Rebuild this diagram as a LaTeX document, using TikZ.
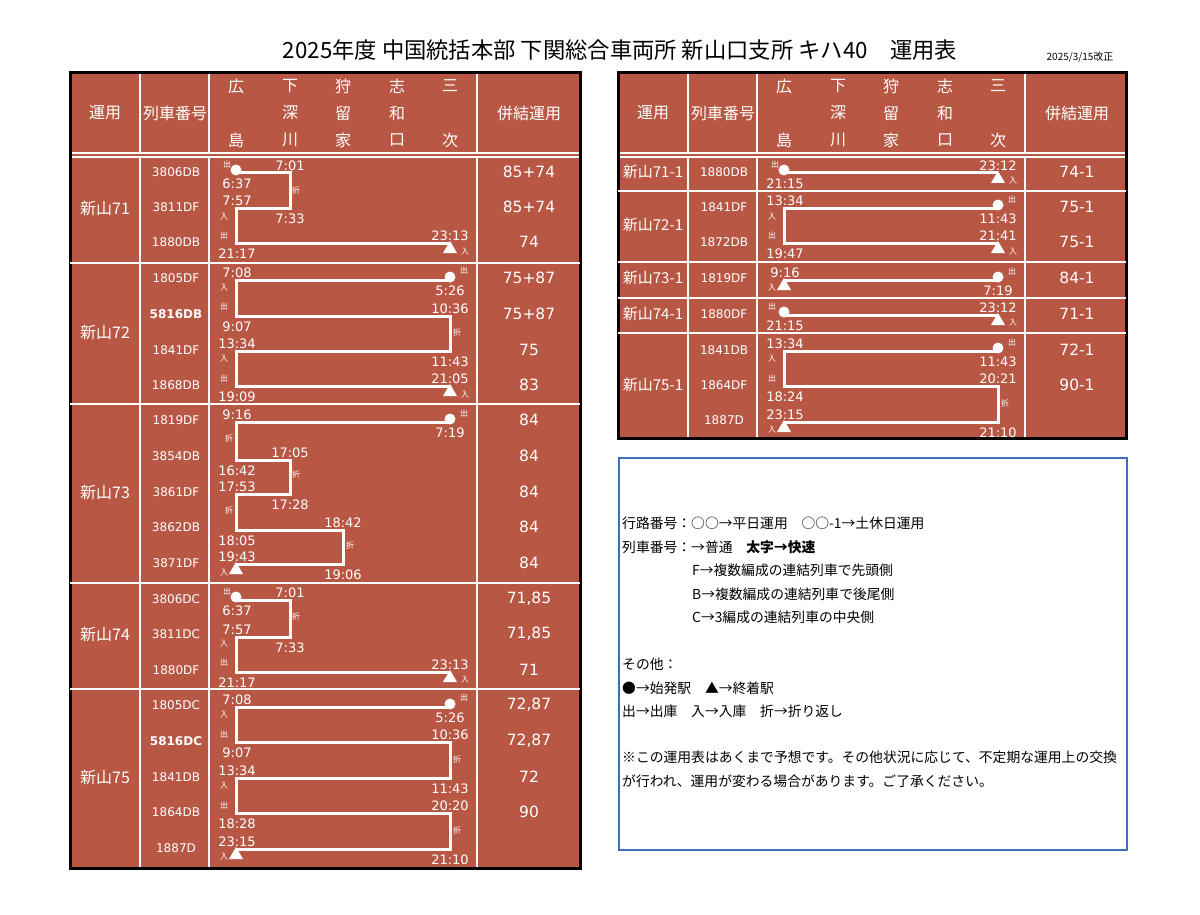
\documentclass[tikz,border=0pt]{standalone}
\usepackage{fontspec}
\setmainfont{Noto Sans CJK JP}
\newfontfamily\vf{DejaVu Sans}
\begin{document}
\definecolor{tbl}{RGB}{185,87,69}
\definecolor{lblue}{RGB}{58,112,190}
\newcommand\Tm[3]{\node[tm] at (#1,#2) {#3};}
\newcommand\Ta[3]{\node[tm] at (#1,#2-7) {#3};}
\newcommand\Tb[3]{\node[tm] at (#1,#2+11) {#3};}
\newcommand\Mk[3]{\node[mk] at (#1,#2) {#3};}
\newcommand\Dot[2]{\fill[white] (#1,#2-3) circle (5.5);}
\newcommand\Tri[2]{\fill[white] (#1-7,#2+10)--(#1+7,#2+10)--(#1,#2-2)--cycle;}
\begin{tikzpicture}[x=1pt,y=-1pt,
  tm/.style={text=white,font=\vf\fontsize{13}{13}\selectfont,inner sep=0pt},
  mk/.style={text=white,font=\fontsize{8}{8}\selectfont,inner sep=0pt},
  tn/.style={text=white,font=\vf\fontsize{12}{12}\selectfont,inner sep=0pt},
  tnb/.style={tn,font=\vf\fontsize{12}{12}\selectfont\bfseries},
  nm/.style={text=white,font=\fontsize{16}{16}\selectfont,inner sep=0pt},
  nmr/.style={text=white,font=\fontsize{15}{15}\selectfont,inner sep=0pt},
  hd/.style={text=white,font=\fontsize{16}{16}\selectfont,inner sep=0pt},
  pk/.style={text=white,font=\vf\fontsize{15.5}{15.5}\selectfont,inner sep=0pt},
  grid/.style={white,line width=1.5pt},
  route/.style={white,line width=3pt,line join=miter},
  lg/.style={anchor=west,font=\fontsize{13.8}{13.8}\selectfont,inner sep=0pt}]
\useasboundingbox (0,0) rectangle (1200,915);
\fill[white] (0,0) rectangle (1200,915);
\node[font=\fontsize{22.3}{22.3}\selectfont] (title) at (620,50) {2025年度 中国統括本部 下関総合車両所 新山口支所 キハ40　運用表};
\node[font=\fontsize{10}{10}\selectfont] (date) at (1080,57) {2025/3/15改正};
% ===== tables base =====
\foreach \ox/\bot/\rgt in {0/868/580, 548/438/1126}{
  \begin{scope}[xshift=\ox]
  \fill[tbl] (70,73) rectangle (\rgt-\ox,\bot);
  \draw[grid] (70,153)--(\rgt-\ox,153) (70,157)--(\rgt-\ox,157);
  \foreach \cx in {140,209,477}{\draw[grid] (\cx,73)--(\cx,153) (\cx,157)--(\cx,\bot);}
  \node[hd] at (105,113) {運用};
  \node[hd] at (175,113) {列車番号};
  \node[hd] at (529,113) {併結運用};
  \foreach \sx/\a/\b/\c in {236/広//島,290/下/深/川,343/狩/留/家,397/志/和/口,450/三//次}{
    \node[hd] at (\sx,86) {\a}; \node[hd] at (\sx,113) {\b}; \node[hd] at (\sx,140) {\c};}
  \end{scope}}
\draw[black,line width=3pt] (70,73) rectangle (580,868);
\draw[black,line width=3pt] (618,73) rectangle (1126,438);
\foreach \ry in {263,404,583,689}{\draw[grid] (70,\ry)--(580,\ry);}
\foreach \ry in {191,262,298,333}{\draw[grid] (618,\ry)--(1126,\ry);}
% ===== left texts =====
\node[nm] at (105,208) {新山71};
\node[nm] at (105,332) {新山72};
\node[nm] at (105,492) {新山73};
\node[nm] at (105,634) {新山74};
\node[nm] at (105,777) {新山75};
\foreach \y/\t/\p in {172/3806DB/85+74,207/3811DF/85+74,242/1880DB/74,
  278/1805DF/75+87,350/1841DF/75,385/1868DB/83,
  420/1819DF/84,456/3854DB/84,492/3861DF/84,527/3862DB/84,563/3871DF/84,
  599/3806DC/{71,85},634/3811DC/{71,85},670/1880DF/71,
  705/1805DC/{72,87},777/1841DB/72,812/1864DB/90,848/1887D/{}}{
  \node[tn] at (176,\y) {\t}; \node[pk] at (529,\y) {\p};}
\node[tnb] at (176,314) {5816DB}; \node[pk] at (529,314) {75+87};
\node[tnb] at (176,741) {5816DC}; \node[pk] at (529,741) {72,87};
% block 71
\draw[route] (236,173)--(290,173)--(290,208)--(236,208)--(236,243)--(450,243);
\Dot{236}{173}\Tri{450}{243}
\Mk{227}{164}{出}\Ta{290}{173}{7:01}\Tb{237}{173}{6:37}\Mk{296}{190}{折}
\Ta{237}{208}{7:57}\Mk{224}{217}{入}\Tb{290}{208}{7:33}
\Mk{224}{235}{出}\Ta{450}{243}{23:13}\Mk{465}{252}{入}\Tb{237}{243}{21:17}
% block 72
\draw[route] (450,280)--(236,280)--(236,316)--(450,316)--(450,351)--(236,351)--(236,386)--(450,386);
\Dot{450}{280}\Tri{450}{386}
\Mk{464}{270}{出}\Ta{237}{280}{7:08}\Tb{450}{280}{5:26}\Mk{224}{288}{入}
\Mk{224}{306}{出}\Ta{450}{316}{10:36}\Tb{237}{316}{9:07}\Mk{457}{332}{折}
\Ta{237}{351}{13:34}\Mk{224}{359}{入}\Tb{450}{351}{11:43}
\Mk{224}{378}{出}\Ta{450}{386}{21:05}\Mk{465}{395}{入}\Tb{237}{386}{19:09}
% block 73
\draw[route] (450,422)--(236,422)--(236,460)--(290,460)--(290,494)--(236,494)--(236,530)--(343,530)--(343,564)--(236,564);
\Dot{450}{422}\Tri{236}{564}
\Mk{464}{413}{出}\Ta{237}{422}{9:16}\Tb{450}{422}{7:19}\Mk{229}{438}{折}
\Ta{290}{460}{17:05}\Tb{237}{460}{16:42}\Mk{296}{474}{折}
\Ta{237}{494}{17:53}\Tb{290}{494}{17:28}\Mk{229}{510}{折}
\Ta{343}{530}{18:42}\Tb{237}{530}{18:05}\Mk{350}{545}{折}
\Ta{237}{564}{19:43}\Mk{224}{573}{入}\Tb{343}{564}{19:06}
% block 74
\draw[route] (236,600)--(290,600)--(290,637)--(236,637)--(236,672)--(450,672);
\Dot{236}{600}\Tri{450}{672}
\Mk{227}{591}{出}\Ta{290}{600}{7:01}\Tb{237}{600}{6:37}\Mk{296}{616}{折}
\Ta{237}{637}{7:57}\Mk{224}{644}{入}\Tb{290}{637}{7:33}
\Mk{224}{662}{出}\Ta{450}{672}{23:13}\Mk{465}{680}{入}\Tb{237}{672}{21:17}
% block 75
\draw[route] (450,707)--(236,707)--(236,742)--(450,742)--(450,778)--(236,778)--(236,813)--(450,813)--(450,849)--(236,849);
\Dot{450}{707}\Tri{236}{849}
\Mk{464}{697}{出}\Ta{237}{707}{7:08}\Tb{450}{707}{5:26}\Mk{224}{715}{入}
\Mk{224}{734}{出}\Ta{450}{742}{10:36}\Tb{237}{742}{9:07}\Mk{457}{759}{折}
\Ta{237}{778}{13:34}\Mk{224}{786}{入}\Tb{450}{778}{11:43}
\Mk{224}{805}{出}\Ta{450}{813}{20:20}\Tb{237}{813}{18:28}\Mk{457}{830}{折}
\Ta{237}{849}{23:15}\Mk{224}{857}{入}\Tb{450}{849}{21:10}
% ===== right texts =====
\node[nmr] at (653,172) {新山71-1};
\node[nmr] at (653,225) {新山72-1};
\node[nmr] at (653,278) {新山73-1};
\node[nmr] at (653,314) {新山74-1};
\node[nmr] at (653,385) {新山75-1};
\foreach \y/\t in {172/1880DB,207/1841DF,242/1872DB,278/1819DF,314/1880DF,350/1841DB,385/1864DF,420/1887D}{
  \node[tn] at (724,\y) {\t};}
\foreach \y/\p in {172/74-1,207/75-1,242/75-1,278/84-1,314/71-1,350/72-1,385/90-1}{
  \node[pk] at (1077,\y) {\p};}
% 71-1
\draw[route] (784,173)--(998,173);
\Dot{784}{173}\Tri{998}{173}
\Mk{775}{164}{出}\Ta{998}{173}{23:12}\Mk{1013}{181}{入}\Tb{785}{173}{21:15}
% 72-1
\draw[route] (998,208)--(784,208)--(784,243)--(998,243);
\Dot{998}{208}\Tri{998}{243}
\Mk{1012}{199}{出}\Ta{785}{208}{13:34}\Mk{772}{217}{入}\Tb{998}{208}{11:43}
\Mk{772}{235}{出}\Ta{998}{243}{21:41}\Mk{1013}{252}{入}\Tb{785}{243}{19:47}
% 73-1
\draw[route] (998,280)--(784,280);
\Dot{998}{280}\Tri{784}{280}
\Mk{1012}{271}{出}\Ta{785}{280}{9:16}\Mk{772}{288}{入}\Tb{998}{280}{7:19}
% 74-1
\draw[route] (784,315)--(998,315);
\Dot{784}{315}\Tri{998}{315}
\Mk{772}{306}{出}\Ta{998}{315}{23:12}\Mk{1013}{323}{入}\Tb{785}{315}{21:15}
% 75-1
\draw[route] (998,351)--(784,351)--(784,386)--(998,386)--(998,422)--(784,422);
\Dot{998}{351}\Tri{784}{422}
\Mk{1012}{342}{出}\Ta{785}{351}{13:34}\Mk{772}{359}{入}\Tb{998}{351}{11:43}
\Mk{772}{378}{出}\Ta{998}{386}{20:21}\Tb{785}{386}{18:24}\Mk{1005}{403}{折}
\Ta{785}{422}{23:15}\Mk{772}{430}{入}\Tb{998}{422}{21:10}
% ===== legend =====
\draw[lblue,line width=2.5pt] (619,458) rectangle (1127,850);
\node[lg] (l1) at (622,523) {行路番号：○○→平日運用　○○-1→土休日運用};
\node[lg] (l2) at (622,547) {列車番号：→普通　\textbf{太字→快速}};
\node[lg] (l3) at (692,570) {F→複数編成の連結列車で先頭側};
\node[lg] (l4) at (692,594) {B→複数編成の連結列車で後尾側};
\node[lg] (l5) at (692,617) {C→3編成の連結列車の中央側};
\node[lg] (l6) at (622,664) {その他：};
\node[lg] (l7) at (622,688) {●→始発駅　▲→終着駅};
\node[lg] (l8) at (622,711) {出→出庫　入→入庫　折→折り返し};
\node[lg] (l9) at (622,757) {※この運用表はあくまで予想です。その他状況に応じて、不定期な運用上の交換};
\node[lg] (l10) at (622,781) {が行われ、運用が変わる場合があります。ご了承ください。};
\end{tikzpicture}
\end{document}
